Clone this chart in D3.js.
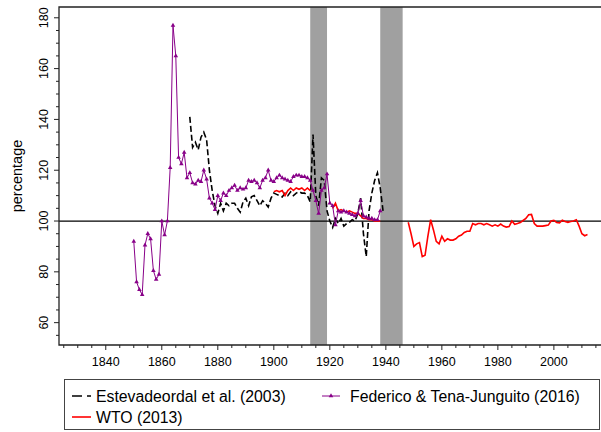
<!DOCTYPE html>
<html>
<head>
<meta charset="utf-8">
<script src="https://cdn.jsdelivr.net/npm/d3@7"></script>
<style>
  body { margin: 0; background: #fff; }
  text { font-family: "Liberation Sans", Arial, Helvetica, sans-serif; }
</style>
</head>
<body>
<div id="chart"></div>
<script>
// data
var fedStart = 1850;
var fedValues = [92, 76, 73, 71, 90.5, 95, 93, 80.5, 77, 79,
  100, 94.5, 100, 121, 177, 165, 125, 122.5, 127, 117,
  119, 115, 114.5, 116, 115.5, 120, 116.5, 109, 107, 104.5,
  110, 108, 111, 110, 112, 113, 114, 112, 113, 112.5,
  113, 116, 115.5, 116, 115, 113, 116, 117, 120, 116,
  115.5, 117, 118, 117, 116.5, 116, 115.5, 117.5, 118, 118,
  117.5, 117.5, 117, 116, 112, 108, 103, 112, 113, 118.5,
  107, 106, 98.5, 104, 103.5, 104, 103.5, 103, 102.5, 102,
  103, 108, 102, 101.5, 101, 101, 100.5, 100.5, 104];

var estStart = 1870;
var estValues = [141, 129, 131, 128, 133, 135, 132, 120, 112, 106,
  103, 107, 104, 107, 106, 107, 107, 105, 103.5, 107.5,
  109, 106, 109.5, 110, 108, 106, 108, 107, 105.5, 109,
  111, 110.5, 110, 109.5, 111, 110, 111.5, 110, 111, 111.5,
  111, 111, 110, 107.5, 134, 110, 106, 117, 116, 104,
  100, 97.5, 101, 99, 101, 98, 99, 99.5, 100.5, 100,
  103, 109, 95, 86, 104, 111, 116, 119, 113, 104];

var wtoPreStart = 1900;
var wtoPre = [111.5, 112, 111.5, 112, 110, 112, 113, 112, 113, 112.5, 113, 112, 113, 112];
var wtoMidStart = 1921;
var wtoMid = [105, 107, 104, 104.5, 104, 103.5, 104, 103.5, 103, 103, 102, 101, 101, 100.5, 100.5, 100, 100, 100];
var wtoPostStart = 1948;
var wtoPost = [99.5, 95, 90, 91, 91.5, 86, 86.5, 94, 100.5, 96.5,
  92, 91, 94, 92, 93, 92.5, 92.5, 93, 94, 94.5,
  95.5, 96, 96, 99, 98.5, 99, 99, 98.5, 99, 98.5,
  98, 98.5, 98, 98.8, 98, 97.6, 97.8, 100, 98.7, 99,
  99.4, 100.2, 101, 102.5, 102.6, 99, 98, 98, 98, 98.2,
  98.4, 100, 100.3, 99.4, 99.3, 100.3, 99.8, 99.5, 99.8, 100,
  100.5, 98, 95, 94.2, 94.7];

var warPeriods = [[1913, 1919], [1938, 1946]];
var xMajorTicks = [1840, 1860, 1880, 1900, 1920, 1940, 1960, 1980, 2000];
var yMajorTicks = [60, 80, 100, 120, 140, 160, 180];
var seriesNames = ["Estevadeordal et al. (2003)", "Federico & Tena-Junguito (2016)", "WTO (2013)"];

function toPoints(start, vals) {
  return vals.map(function(v, i) { return {year: start + i, value: v}; });
}

var W = 601, H = 432;
var pL = 59, pR = 601.5, pT = 7, pB = 345;

var svg = d3.select("#chart").append("svg")
    .attr("width", W)
    .attr("height", H);

var x = d3.scaleLinear().domain([1823.3, 2017]).range([pL, pR]);
var y = d3.scaleLinear().domain([51.2, 184.25]).range([pB, pT]);

// shaded war periods
svg.selectAll(".war")
    .data(warPeriods)
  .enter().append("rect")
    .attr("class", "war")
    .attr("x", function(d) { return x(d[0]); })
    .attr("width", function(d) { return x(d[1]) - x(d[0]); })
    .attr("y", pT)
    .attr("height", pB - pT)
    .attr("fill", "#a0a0a0");

// reference line at 100
svg.append("line")
    .attr("x1", pL).attr("x2", pR)
    .attr("y1", y(100)).attr("y2", y(100))
    .attr("stroke", "#000").attr("stroke-width", 1.2);

var line = d3.line()
    .x(function(d) { return x(d.year); })
    .y(function(d) { return y(d.value); });

// Estevadeordal - dashed black
svg.append("path")
    .datum(toPoints(estStart, estValues))
    .attr("d", line)
    .attr("fill", "none")
    .attr("stroke", "#000")
    .attr("stroke-width", 1.6)
    .attr("stroke-dasharray", "6,3");

// WTO - red, three pieces
[[wtoPreStart, wtoPre], [wtoMidStart, wtoMid], [wtoPostStart, wtoPost]].forEach(function(s) {
  svg.append("path")
      .datum(toPoints(s[0], s[1]))
      .attr("d", line)
      .attr("fill", "none")
      .attr("stroke", "#ff0000")
      .attr("stroke-width", 1.6);
});

// Federico & Tena-Junguito - purple with triangles
var fed = toPoints(fedStart, fedValues);
svg.append("path")
    .datum(fed)
    .attr("d", line)
    .attr("fill", "none")
    .attr("stroke", "#880088")
    .attr("stroke-width", 1);

var tri = d3.symbol().type(d3.symbolTriangle).size(9);
svg.selectAll(".tri")
    .data(fed)
  .enter().append("path")
    .attr("class", "tri")
    .attr("d", tri)
    .attr("transform", function(d) { return "translate(" + x(d.year) + "," + y(d.value) + ")"; })
    .attr("fill", "#880088");

// frame
svg.append("path")
    .attr("d", "M" + pR + "," + pT + "H" + pL + "V" + pB + "H" + pR)
    .attr("fill", "none")
    .attr("stroke", "#222")
    .attr("stroke-width", 1.3);

// x axis
var xAxis = svg.append("g").attr("transform", "translate(0," + pB + ")");
xAxis.selectAll(".minor")
    .data(d3.range(1825, 2017, 5))
  .enter().append("line")
    .attr("x1", function(d) { return x(d); })
    .attr("x2", function(d) { return x(d); })
    .attr("y1", 0)
    .attr("y2", function(d) { return xMajorTicks.indexOf(d) >= 0 ? 5 : 3; })
    .attr("stroke", "#222");
xAxis.selectAll(".lab")
    .data(xMajorTicks)
  .enter().append("text")
    .attr("x", function(d) { return x(d); })
    .attr("y", 21)
    .attr("text-anchor", "middle")
    .attr("font-size", 12.5)
    .text(function(d) { return d; });

// y axis
var yAxis = svg.append("g").attr("transform", "translate(" + pL + ",0)");
yAxis.selectAll(".minor")
    .data(d3.range(55, 185, 5))
  .enter().append("line")
    .attr("y1", function(d) { return y(d); })
    .attr("y2", function(d) { return y(d); })
    .attr("x1", 0)
    .attr("x2", function(d) { return yMajorTicks.indexOf(d) >= 0 ? -5 : -3; })
    .attr("stroke", "#222");
yAxis.selectAll(".lab")
    .data(yMajorTicks)
  .enter().append("text")
    .attr("transform", function(d) { return "translate(-11," + y(d) + ") rotate(-90)"; })
    .attr("text-anchor", "middle")
    .attr("font-size", 12.5)
    .text(function(d) { return d; });

svg.append("text")
    .attr("transform", "translate(22," + ((pT + pB) / 2) + ") rotate(-90)")
    .attr("text-anchor", "middle")
    .attr("font-size", 14.5)
    .text("percentage");

// legend
var lg = svg.append("g");
lg.append("rect")
    .attr("x", 64.5).attr("y", 379.5)
    .attr("width", 535).attr("height", 50)
    .attr("fill", "#fff")
    .attr("stroke", "#444");

var row1 = 396, row2 = 417;
lg.append("line")
    .attr("x1", 72).attr("x2", 91).attr("y1", row1).attr("y2", row1)
    .attr("stroke", "#000").attr("stroke-width", 1.6)
    .attr("stroke-dasharray", "10,5");
lg.append("text").attr("x", 96).attr("y", row1 + 5.5)
    .attr("font-size", 15.8).text(seriesNames[0]);

lg.append("line")
    .attr("x1", 72).attr("x2", 91).attr("y1", row2).attr("y2", row2)
    .attr("stroke", "#ff0000").attr("stroke-width", 1.6);
lg.append("text").attr("x", 96).attr("y", row2 + 5.5)
    .attr("font-size", 15.8).text(seriesNames[2]);

lg.append("line")
    .attr("x1", 322).attr("x2", 340).attr("y1", row1).attr("y2", row1)
    .attr("stroke", "#880088").attr("stroke-width", 1);
lg.append("path")
    .attr("d", tri)
    .attr("transform", "translate(331," + row1 + ")")
    .attr("fill", "#880088");
lg.append("text").attr("x", 350).attr("y", row1 + 5.5)
    .attr("font-size", 15.8).text(seriesNames[1]);
</script>
</body>
</html>
